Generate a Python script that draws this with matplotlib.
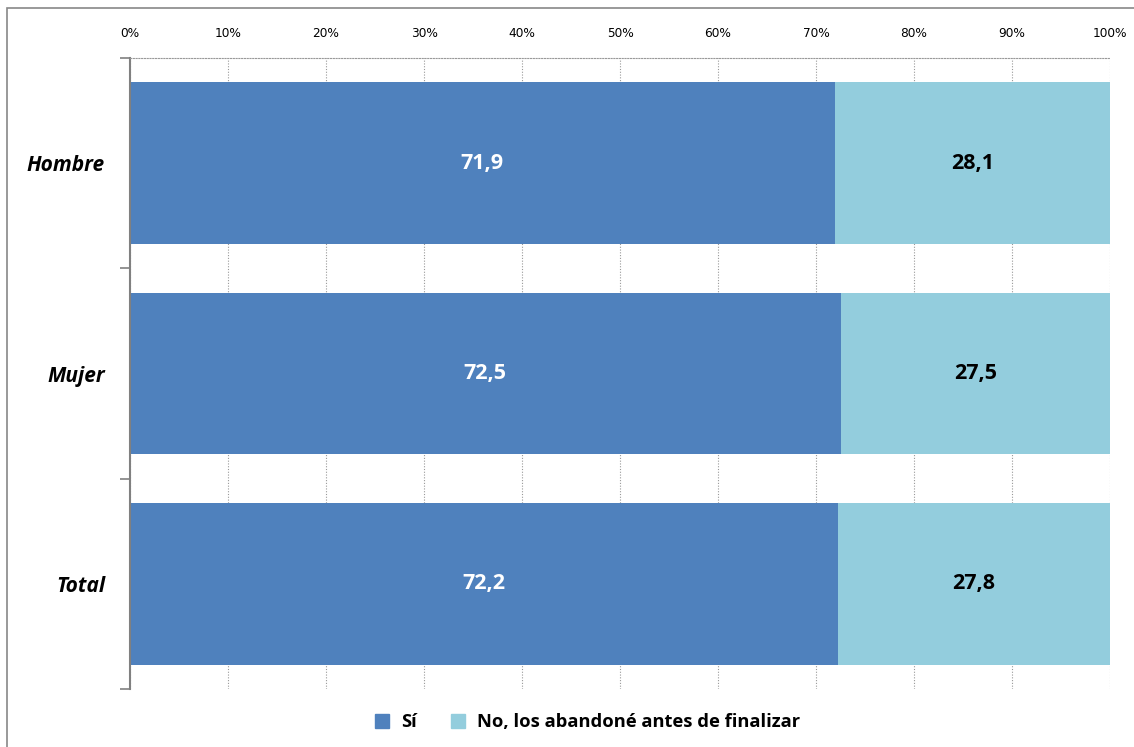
import matplotlib.pyplot as plt
from matplotlib.lines import Line2D
from matplotlib.patches import Rectangle

categorias = ["Hombre", "Mujer", "Total"]
si = [71.9, 72.5, 72.2]
no = [28.1, 27.5, 27.8]
series = ["Sí", "No, los abandoné antes de finalizar"]
colores = ["#4F81BD", "#93CDDD"]

plt.rcParams['font.family'] = ['Open Sans', 'DejaVu Sans']

fig = plt.figure(figsize=(11.34, 7.47), dpi=100)
ax = fig.add_axes([130 / 1134, 1 - 689 / 747, 980 / 1134, 631 / 747])

# marco exterior
fig.patches.append(Rectangle((7 / 1134, -0.1), 1.2, 1 - 8 / 747 + 0.1,
                             transform=fig.transFigure, fill=False,
                             edgecolor="#888888", lw=1.2))

pos = [i + 0.5 for i in range(len(categorias))]
ax.barh(pos, si, height=0.77, color=colores[0], label=series[0], zorder=2)
ax.barh(pos, no, left=si, height=0.77, color=colores[1], label=series[1], zorder=2)

for p, a, b in zip(pos, si, no):
    ax.text(a / 2, p, f"{a:.1f}".replace(".", ","), ha="center", va="center",
            color="white", fontsize=15.5, fontweight="bold", zorder=3)
    ax.text(a + b / 2, p, f"{b:.1f}".replace(".", ","), ha="center", va="center",
            color="black", fontsize=15.5, fontweight="bold", zorder=3)

ax.set_xlim(0, 100)
ax.set_ylim(3, 0)
ax.xaxis.tick_top()
ax.set_xticks(range(0, 101, 10))
ax.set_xticklabels([f"{v}%" for v in range(0, 101, 10)], fontsize=8.7, family="DejaVu Sans")
ax.tick_params(axis="x", length=0, pad=13)
ax.grid(axis="x", color="#999999", linestyle=(0, (1, 1.5)), lw=0.8, zorder=1)

ax.set_yticks(range(0, 4))
ax.set_yticklabels([])
ax.tick_params(axis="y", which="major", length=7, color="#808080", width=1.2)
ax.set_yticks(pos, minor=True)
ax.set_yticklabels(categorias, minor=True, fontsize=15, fontweight="bold", style="italic")
ax.tick_params(axis="y", which="minor", length=0, pad=18)

ax.spines["left"].set_color("#808080")
ax.spines["left"].set_linewidth(1.5)
ax.spines["top"].set_color("#999999")
ax.spines["top"].set_linestyle((0, (1, 1.5)))
ax.spines["top"].set_linewidth(0.8)
ax.spines["right"].set_visible(False)
ax.spines["bottom"].set_visible(False)

handles = [Line2D([], [], marker="s", linestyle="", markersize=10, color=c) for c in colores]
fig.legend(handles, series, loc="center", bbox_to_anchor=(582 / 1134, 1 - 722 / 747),
           ncol=2, frameon=False, handletextpad=0.05, columnspacing=1.2,
           prop={"weight": "bold", "size": 13.2})

fig.savefig("out.png", dpi=100)
